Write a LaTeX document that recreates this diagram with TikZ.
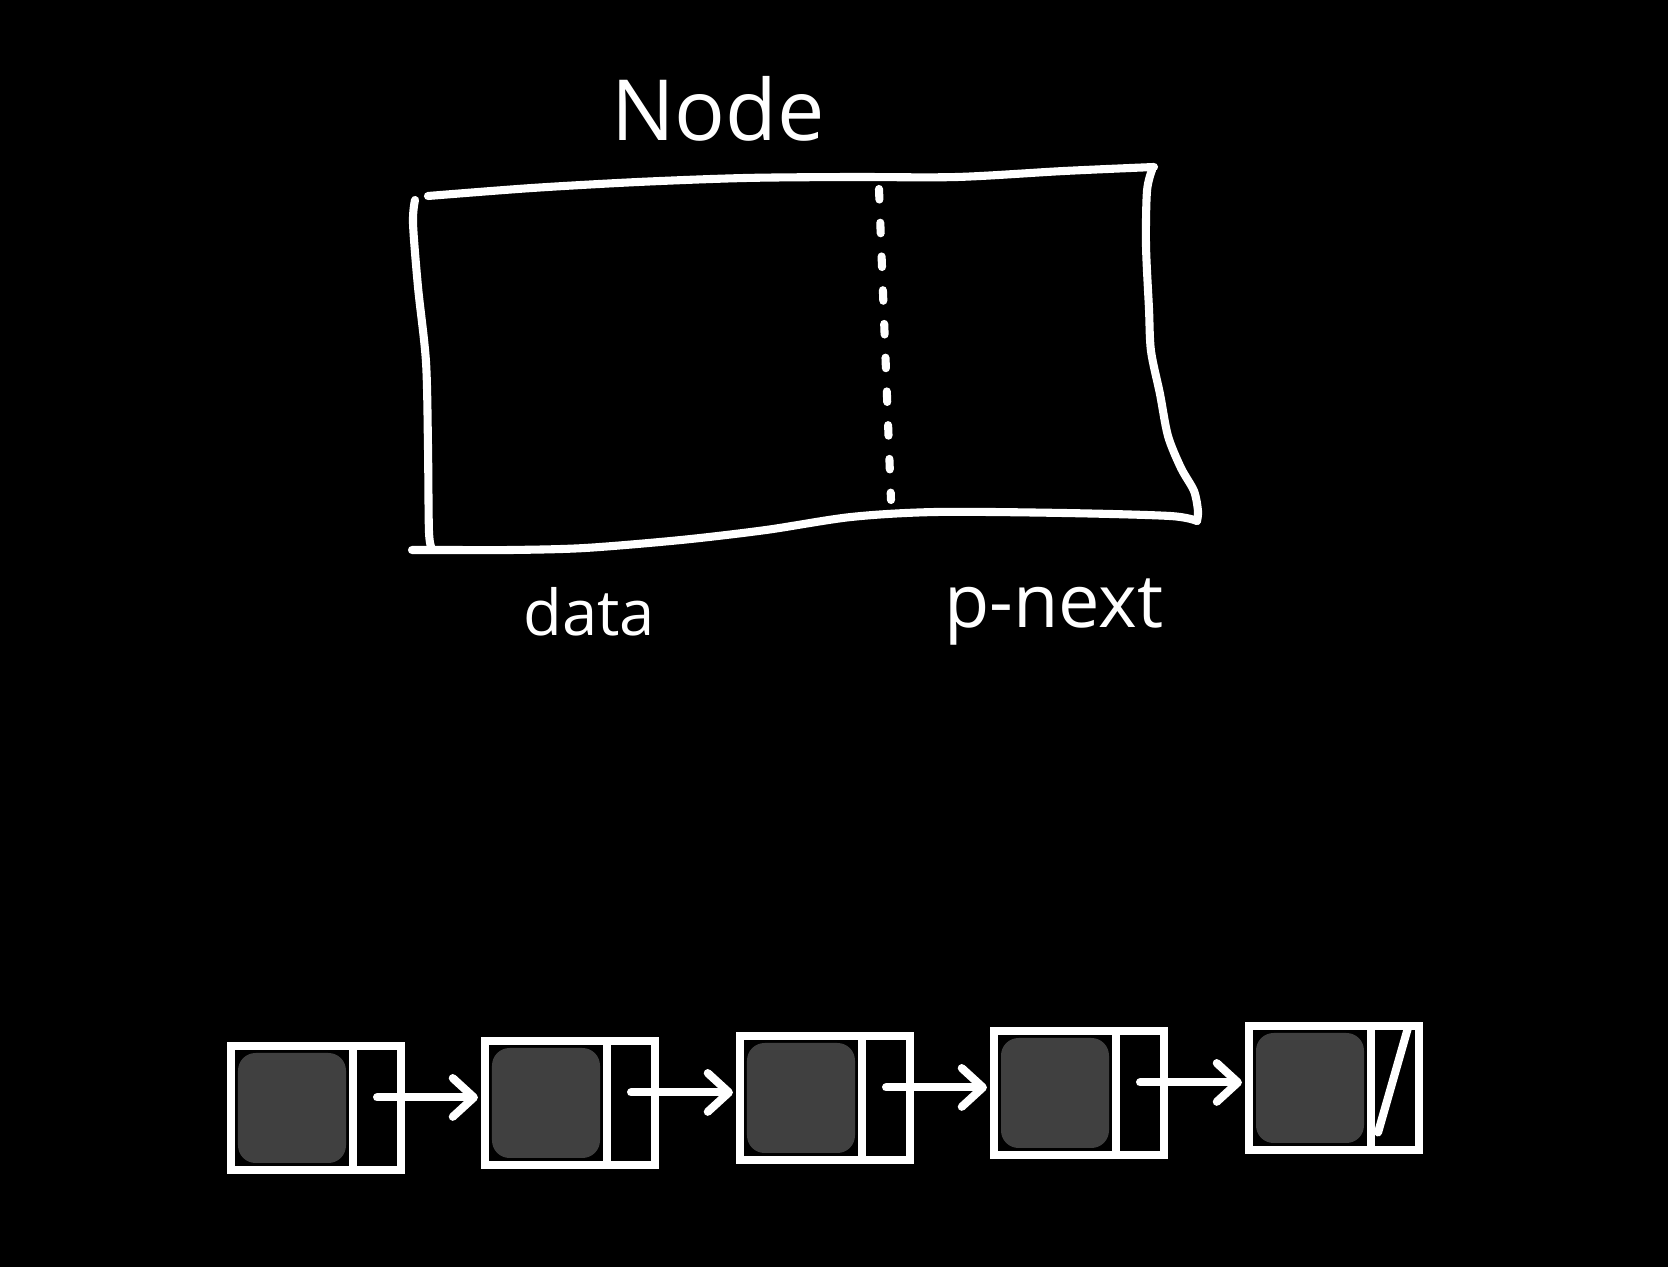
\documentclass[tikz,border=0pt]{standalone}
\usepackage{fontspec}
\setmainfont{Open Sans}
\usetikzlibrary{positioning,arrows.meta}
\definecolor{cellgrey}{HTML}{404040}

\begin{document}
\begin{tikzpicture}[x=0.01cm, y=-0.01cm, >={Straight Barb[length=6pt,width=11pt,round]}]

% --- Global TikZ Styles ---
\tikzset{
    sketch/.style={
        draw=white,
        line width=2.3pt,
        line cap=round,
        line join=round
    },
    divider/.style={
        sketch,
        dash pattern=on 3pt off 6.6pt
    },
    titletext/.style={
        text=white,
        font=\fontsize{24}{28}\selectfont,
        anchor=base
    },
    fieldtext/.style={
        text=white,
        font=\fontsize{18}{22}\selectfont,
        anchor=base
    },
    datacell/.style={
        draw=white,
        line width=2.3pt,
        inner sep=0pt,
        outer sep=0pt,
        minimum width=1.22cm,
        minimum height=1.24cm,
        path picture={
            \fill[cellgrey, rounded corners=5pt]
                ([shift={(2pt,-2pt)}]path picture bounding box.north west)
                rectangle
                ([shift={(-2pt,2pt)}]path picture bounding box.south east);
        }
    },
    nextcell/.style={
        draw=white,
        line width=2.3pt,
        inner sep=0pt,
        outer sep=0pt,
        minimum width=0.48cm,
        minimum height=1.24cm
    },
    link/.style={
        ->,
        sketch,
        shorten >=2pt
    }
}

% Background
\fill[black] (0,0) rectangle (1668,1267);
\useasboundingbox (0,0) rectangle (1668,1267);

% ==================================================
% --- Single node sketch ---
% ==================================================

% Top edge
\draw[sketch] plot[smooth] coordinates
    {(428,196) (532,188) (638,182) (745,178) (851,177) (957,177) (1064,171) (1154,167)};

% Right edge
\draw[sketch] plot[smooth] coordinates
    {(1152,170) (1147,191) (1146,245) (1149,309) (1151,351) (1160,394) (1168,436) (1181,468) (1194,491) (1198,511) (1197,521)};

% Bottom edge
\draw[sketch] plot[smooth] coordinates
    {(1197,521) (1170,516) (1064,513) (936,512) (851,517) (766,530) (681,540) (585,548) (511,550) (447,550) (412,550)};

% Left edge
\draw[sketch] plot[smooth] coordinates
    {(415,200) (413,223) (418,287) (426,362) (428,447) (429,532) (432,549)};

% Split between data and p-next
\draw[divider] (879,189) -- (891,500);

% Labels
\node[titletext] (title) at (718,141) {Node};
\node[fieldtext] (datalabel) at (589,636) {data};
\node[fieldtext, font=\fontsize{21}{25}\selectfont] (nextlabel) at (1054,628) {p-next};

% ==================================================
% --- Linked list ---
% ==================================================

% Cells
\foreach \i/\x/\y in {1/292/1108, 2/546/1103, 3/801/1098, 4/1055/1093, 5/1310/1088}{
    \node[datacell] (d\i) at (\x,\y) {};
    \node[nextcell, right=0pt of d\i] (n\i) {};
}

% Links
\foreach \i/\j in {1/2, 2/3, 3/4, 4/5}{
    \draw[link]
        ([yshift=3pt]n\i.center) -- ([yshift=3pt]n\i.center -| d\j.west);
}

% Null pointer
\draw[sketch] ([xshift=-3pt]n5.north east) -- ([xshift=2pt,yshift=5pt]n5.south west);

\end{tikzpicture}
\end{document}
